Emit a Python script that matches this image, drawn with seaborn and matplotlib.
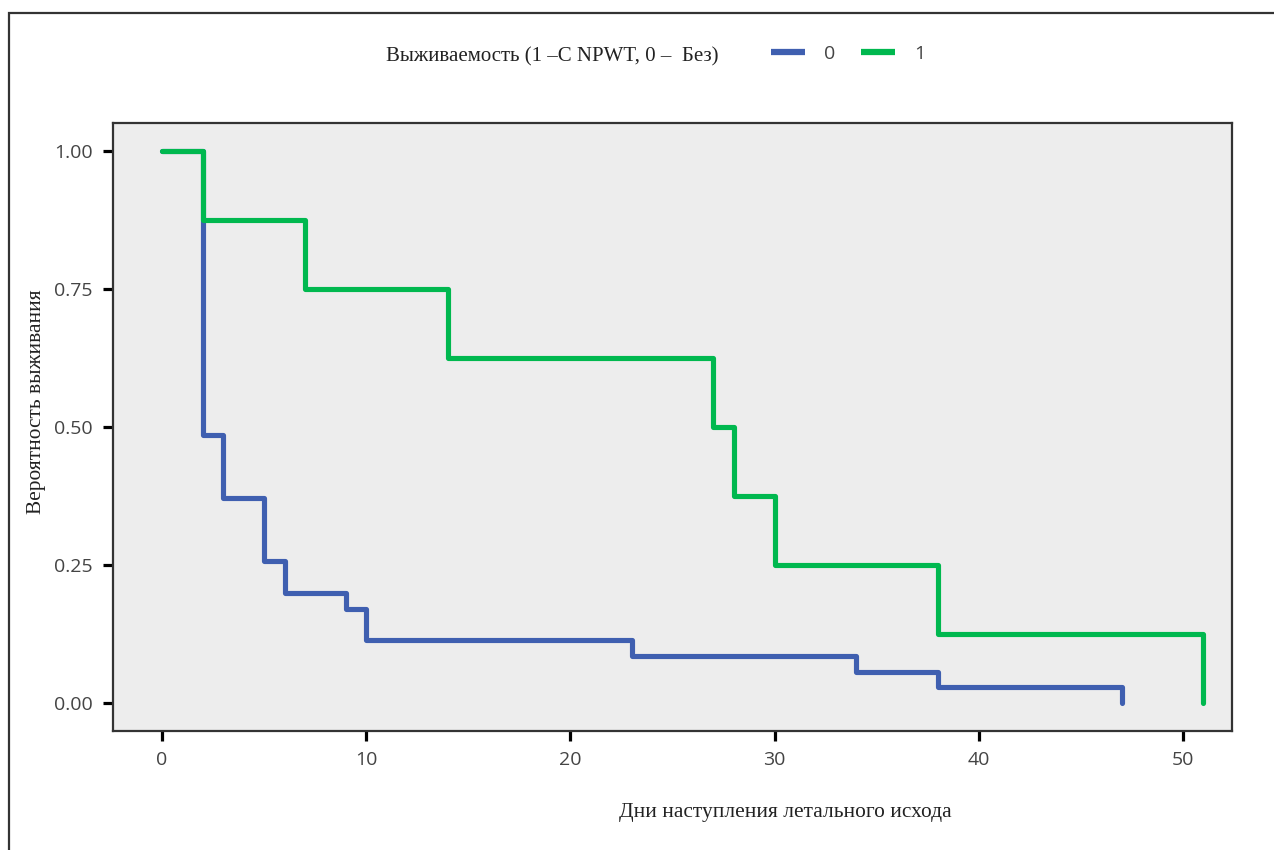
"""Kaplan-Meier style survival curves (NPWT vs without) drawn with seaborn."""

import matplotlib
matplotlib.use("Agg")
import matplotlib.pyplot as plt
from matplotlib.patches import Rectangle
from matplotlib.lines import Line2D
import pandas as pd
import seaborn as sns

# group 0 - without NPWT
days_0 = [0, 2, 3, 5, 6, 9, 10, 23, 34, 38, 47]
surv_0 = [1.0, 0.486, 0.371, 0.257, 0.200, 0.171, 0.114, 0.086, 0.057, 0.029, 0.0]
# group 1 - with NPWT
days_1 = [0, 2, 7, 14, 27, 28, 30, 38, 51]
surv_1 = [1.0, 0.875, 0.75, 0.625, 0.5, 0.375, 0.25, 0.125, 0.0]

x_ticks = [0, 10, 20, 30, 40, 50]
y_ticks = [0.0, 0.25, 0.5, 0.75, 1.0]

legend_title = "Выживаемость (1 –С NPWT, 0 –  Без)"
x_label = "Дни наступления летального исхода"
y_label = "Вероятность выживания"

COLORS = {"0": "#3F5FB0", "1": "#00B84F"}
SERIF = ["Liberation Serif", "DejaVu Serif"]
SANS = ["Open Sans", "DejaVu Sans"]


def main():
    df = pd.concat([
        pd.DataFrame({"day": days_0, "surv": surv_0, "group": "0"}),
        pd.DataFrame({"day": days_1, "surv": surv_1, "group": "1"}),
    ])

    fig = plt.figure(figsize=(12.74, 8.5), dpi=100)
    ax = fig.add_axes([0.0887, 0.14, 0.967 - 0.0887, 0.855 - 0.14])
    ax.set_facecolor("#EDEDED")

    # blue first, green on top (green hides blue at the start)
    for grp in ["0", "1"]:
        sns.lineplot(
            data=df[df["group"] == grp], x="day", y="surv",
            color=COLORS[grp], linewidth=3.7, drawstyle="steps-post",
            estimator=None, sort=True, ax=ax, legend=False,
        )

    ax.set_xlim(-2.4, 52.4)
    ax.set_ylim(-0.05, 1.05)
    ax.set_xticks(x_ticks)
    ax.set_yticks(y_ticks)
    ax.set_xticklabels([str(t) for t in x_ticks], family=SANS, fontsize=14, color="#444444")
    ax.set_yticklabels([f"{t:.2f}" for t in y_ticks], family=SANS, fontsize=14, color="#444444")
    ax.tick_params(bottom=True, left=True, direction="out", length=7.5, width=2.3,
                   color="black", pad=7)
    ax.grid(False)
    for sp in ax.spines.values():
        sp.set_color("#333333")
        sp.set_linewidth(1.6)

    ax.set_xlabel("")
    ax.set_ylabel("")
    fig.text(785 / 1274, 1 - 813 / 850, x_label, family=SERIF, fontsize=15.4,
             color="#222222", ha="center", va="center")
    fig.text(37 / 1274, 1 - 402 / 850, y_label, family=SERIF, fontsize=15.4,
             color="#222222", ha="center", va="center", rotation=90)

    # legend: title on the left, entries on the right
    fig.text(386 / 1274, 1 - 57 / 850, legend_title, family=SERIF, fontsize=15,
             color="#222222", ha="left", va="center")
    handles = [Line2D([], [], color=COLORS[g], linewidth=4.5, solid_capstyle="butt")
               for g in ["0", "1"]]
    fig.legend(handles, ["0", "1"], ncol=2, frameon=False, loc="center left",
               bbox_to_anchor=(753 / 1274, 1 - 54 / 850), handlelength=1.75,
               columnspacing=1.3, handletextpad=1.0,
               prop={"family": SANS, "size": 14})
    for t in fig.legends[0].get_texts():
        t.set_color("#444444")

    # outer frame of the figure (right/bottom edges cropped)
    fig.patches.append(Rectangle((9 / 1274, -0.1), 1.2, 1 - 13 / 850 + 0.1,
                                 transform=fig.transFigure, fill=False,
                                 edgecolor="#333333", linewidth=1.6))

    fig.savefig("out.png", dpi=100)
    plt.close(fig)


if __name__ == "__main__":
    sns.set_theme(style="white")
    main()
